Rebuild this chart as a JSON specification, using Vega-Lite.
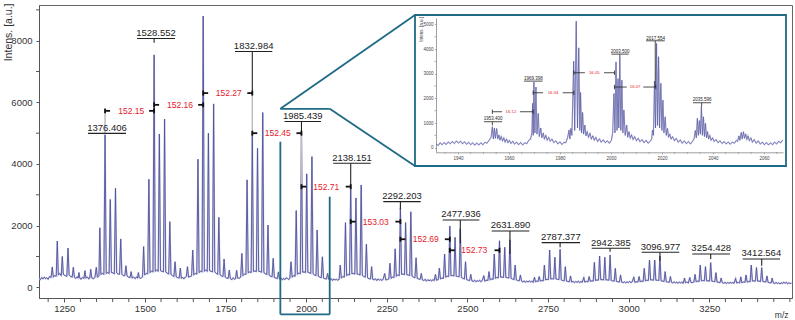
{
"$schema":"https://vega.github.io/schema/vega-lite/v6.json",
"width":753,"height":293,
"autosize":{"type":"none"},
"padding":{"left":39,"top":5,"right":3,"bottom":22},
"background":"white",
"config":{"view":{"stroke":"#666","strokeWidth":1},"font":"Liberation Sans","axis":{"grid":false,"labelOverlap":false,"labelFlush":false}},
"datasets":{
"spec":[{"m":1172,"i":300},{"m":1176,"i":250},{"m":1180,"i":320},{"m":1184,"i":270},{"m":1188,"i":330},{"m":1192,"i":280},{"m":1196,"i":310},{"m":1200,"i":260},{"m":1204,"i":350},{"m":1209,"i":320},{"m":1212.8,"i":660},{"m":1216,"i":330},{"m":1220,"i":380},{"m":1225,"i":360},{"m":1228.3,"i":1500},{"m":1231.5,"i":400},{"m":1236,"i":450},{"m":1240.5,"i":380},{"m":1243.8,"i":1000},{"m":1247,"i":420},{"m":1252,"i":380},{"m":1258,"i":360},{"m":1261.5,"i":1270},{"m":1265,"i":400},{"m":1270,"i":350},{"m":1274.5,"i":330},{"m":1278,"i":650},{"m":1281.5,"i":320},{"m":1286,"i":290},{"m":1290,"i":340},{"m":1293,"i":300},{"m":1295.6,"i":480},{"m":1298,"i":300},{"m":1302,"i":260},{"m":1306,"i":320},{"m":1311,"i":290},{"m":1314,"i":540},{"m":1317,"i":300},{"m":1322,"i":330},{"m":1326,"i":270},{"m":1329,"i":300},{"m":1332,"i":585},{"m":1335,"i":310},{"m":1340,"i":280},{"m":1345,"i":320},{"m":1349.3,"i":650},{"m":1352.5,"i":330},{"m":1356,"i":350},{"m":1357.5,"i":380},{"m":1360.2,"i":1930},{"m":1363.5,"i":420},{"m":1368,"i":450},{"m":1372.8,"i":420},{"m":1376.4,"i":4950},{"m":1380,"i":450},{"m":1384.5,"i":480},{"m":1389,"i":450},{"m":1392.6,"i":2850},{"m":1396,"i":480},{"m":1400.5,"i":470},{"m":1405.2,"i":440},{"m":1408.8,"i":3215},{"m":1412.4,"i":470},{"m":1416.8,"i":430},{"m":1421.4,"i":420},{"m":1425,"i":1570},{"m":1428.5,"i":430},{"m":1433,"i":380},{"m":1437.8,"i":380},{"m":1441.2,"i":700},{"m":1444.5,"i":370},{"m":1449,"i":330},{"m":1454,"i":320},{"m":1457.4,"i":510},{"m":1460.5,"i":300},{"m":1465,"i":330},{"m":1470,"i":280},{"m":1474,"i":340},{"m":1477,"i":300},{"m":1479.7,"i":480},{"m":1482.5,"i":310},{"m":1487,"i":290},{"m":1492.7,"i":340},{"m":1496,"i":1320},{"m":1499.3,"i":400},{"m":1504,"i":450},{"m":1508.8,"i":440},{"m":1512.3,"i":3505},{"m":1515.8,"i":480},{"m":1520.4,"i":520},{"m":1525,"i":500},{"m":1528.55,"i":7540},{"m":1532,"i":520},{"m":1536.7,"i":560},{"m":1541.2,"i":520},{"m":1544.8,"i":4975},{"m":1548.3,"i":540},{"m":1552.9,"i":520},{"m":1557.5,"i":500},{"m":1561,"i":5455},{"m":1564.5,"i":500},{"m":1569,"i":460},{"m":1573.8,"i":430},{"m":1577.3,"i":2130},{"m":1580.8,"i":420},{"m":1585.4,"i":380},{"m":1590,"i":350},{"m":1593.5,"i":830},{"m":1597,"i":340},{"m":1601.6,"i":310},{"m":1606.3,"i":300},{"m":1609.8,"i":625},{"m":1613,"i":290},{"m":1617,"i":320},{"m":1621,"i":270},{"m":1625,"i":330},{"m":1628.5,"i":350},{"m":1632,"i":670},{"m":1635.3,"i":330},{"m":1640,"i":350},{"m":1644.8,"i":370},{"m":1648.3,"i":1210},{"m":1651.8,"i":400},{"m":1656.4,"i":450},{"m":1661,"i":430},{"m":1664.5,"i":4155},{"m":1668,"i":480},{"m":1672.6,"i":520},{"m":1677.2,"i":500},{"m":1680.7,"i":8800},{"m":1684.2,"i":520},{"m":1688.8,"i":560},{"m":1693.4,"i":520},{"m":1696.9,"i":5000},{"m":1700.4,"i":540},{"m":1705,"i":520},{"m":1709.6,"i":500},{"m":1713.1,"i":5950},{"m":1716.6,"i":500},{"m":1721.2,"i":450},{"m":1725.8,"i":420},{"m":1729.3,"i":2270},{"m":1732.8,"i":410},{"m":1737.4,"i":370},{"m":1742,"i":350},{"m":1745.5,"i":920},{"m":1749,"i":330},{"m":1753.6,"i":300},{"m":1758.2,"i":290},{"m":1761.7,"i":560},{"m":1765,"i":280},{"m":1770,"i":250},{"m":1774,"i":310},{"m":1778,"i":260},{"m":1781,"i":280},{"m":1784.4,"i":550},{"m":1787.5,"i":300},{"m":1792,"i":290},{"m":1797,"i":330},{"m":1800.6,"i":1100},{"m":1804,"i":380},{"m":1808.7,"i":430},{"m":1813.3,"i":420},{"m":1816.8,"i":3485},{"m":1820.3,"i":470},{"m":1824.9,"i":500},{"m":1829.5,"i":480},{"m":1833,"i":5000},{"m":1836.5,"i":510},{"m":1841.1,"i":530},{"m":1845.7,"i":510},{"m":1849.2,"i":4510},{"m":1852.7,"i":520},{"m":1857.3,"i":510},{"m":1861.9,"i":490},{"m":1865.4,"i":5670},{"m":1868.9,"i":480},{"m":1873.5,"i":440},{"m":1878.1,"i":410},{"m":1881.6,"i":2020},{"m":1885.1,"i":400},{"m":1889.7,"i":360},{"m":1894.3,"i":340},{"m":1897.8,"i":940},{"m":1901.3,"i":320},{"m":1905.9,"i":300},{"m":1910.5,"i":280},{"m":1914,"i":500},{"m":1917.5,"i":270},{"m":1922,"i":300},{"m":1926,"i":240},{"m":1930,"i":290},{"m":1934,"i":250},{"m":1938,"i":310},{"m":1943,"i":280},{"m":1946,"i":250},{"m":1949.5,"i":300},{"m":1953,"i":830},{"m":1956.5,"i":330},{"m":1961,"i":380},{"m":1965.7,"i":360},{"m":1969.2,"i":2490},{"m":1972.7,"i":420},{"m":1977.3,"i":460},{"m":1981.9,"i":440},{"m":1985.44,"i":5000},{"m":1989,"i":490},{"m":1993.6,"i":500},{"m":1998.2,"i":480},{"m":2001.7,"i":3680},{"m":2005.2,"i":490},{"m":2009.8,"i":470},{"m":2014.4,"i":450},{"m":2017.9,"i":4240},{"m":2021.4,"i":440},{"m":2026,"i":400},{"m":2030.6,"i":380},{"m":2034.1,"i":1860},{"m":2037.6,"i":360},{"m":2042.2,"i":330},{"m":2046.8,"i":310},{"m":2050.3,"i":990},{"m":2053.8,"i":300},{"m":2058.4,"i":280},{"m":2063,"i":270},{"m":2066.5,"i":450},{"m":2070,"i":260},{"m":2074,"i":230},{"m":2078,"i":280},{"m":2082,"i":220},{"m":2086,"i":270},{"m":2090,"i":240},{"m":2094,"i":260},{"m":2098,"i":230},{"m":2102.2,"i":260},{"m":2105.7,"i":720},{"m":2109.2,"i":300},{"m":2113.8,"i":350},{"m":2118.4,"i":330},{"m":2121.9,"i":2100},{"m":2125.4,"i":380},{"m":2130,"i":420},{"m":2134.6,"i":400},{"m":2138.15,"i":3280},{"m":2141.7,"i":440},{"m":2146.3,"i":450},{"m":2150.9,"i":430},{"m":2154.4,"i":2900},{"m":2157.9,"i":430},{"m":2162.5,"i":420},{"m":2167.1,"i":400},{"m":2170.6,"i":3320},{"m":2174.1,"i":390},{"m":2178.7,"i":350},{"m":2183.3,"i":330},{"m":2186.8,"i":1400},{"m":2190.3,"i":310},{"m":2194.9,"i":280},{"m":2199.5,"i":270},{"m":2203,"i":670},{"m":2206.5,"i":260},{"m":2211,"i":240},{"m":2215,"i":280},{"m":2219,"i":220},{"m":2223,"i":270},{"m":2227,"i":230},{"m":2231,"i":260},{"m":2235,"i":220},{"m":2239,"i":270},{"m":2243.6,"i":450},{"m":2247,"i":240},{"m":2252,"i":250},{"m":2256.3,"i":270},{"m":2259.8,"i":780},{"m":2263.3,"i":290},{"m":2268,"i":330},{"m":2272.5,"i":320},{"m":2276,"i":1250},{"m":2279.5,"i":360},{"m":2284,"i":400},{"m":2288.7,"i":380},{"m":2292.2,"i":2580},{"m":2295.7,"i":420},{"m":2300.3,"i":430},{"m":2304.9,"i":410},{"m":2308.4,"i":2100},{"m":2311.9,"i":410},{"m":2316.5,"i":400},{"m":2321.1,"i":380},{"m":2324.6,"i":2450},{"m":2328.1,"i":370},{"m":2332.7,"i":330},{"m":2337.3,"i":310},{"m":2340.8,"i":960},{"m":2344.3,"i":290},{"m":2348.9,"i":270},{"m":2353.5,"i":260},{"m":2357,"i":450},{"m":2360.5,"i":240},{"m":2365,"i":220},{"m":2369,"i":260},{"m":2373,"i":200},{"m":2377,"i":250},{"m":2381,"i":210},{"m":2385,"i":240},{"m":2389,"i":200},{"m":2393,"i":250},{"m":2397,"i":220},{"m":2401,"i":420},{"m":2404,"i":230},{"m":2409.5,"i":250},{"m":2413,"i":620},{"m":2416.5,"i":270},{"m":2421,"i":300},{"m":2425.8,"i":290},{"m":2429.3,"i":1080},{"m":2432.8,"i":330},{"m":2437.4,"i":360},{"m":2442,"i":350},{"m":2445.5,"i":1990},{"m":2449,"i":380},{"m":2453.6,"i":380},{"m":2458.2,"i":370},{"m":2461.7,"i":1620},{"m":2465.2,"i":360},{"m":2469.8,"i":350},{"m":2474.4,"i":340},{"m":2477.9,"i":1900},{"m":2481.4,"i":320},{"m":2486,"i":290},{"m":2490.7,"i":270},{"m":2494.2,"i":830},{"m":2497.7,"i":250},{"m":2502.3,"i":230},{"m":2506.9,"i":220},{"m":2510.4,"i":420},{"m":2514,"i":210},{"m":2518,"i":190},{"m":2522,"i":230},{"m":2526,"i":180},{"m":2530,"i":220},{"m":2534,"i":190},{"m":2538,"i":230},{"m":2542,"i":180},{"m":2546,"i":220},{"m":2551,"i":380},{"m":2554,"i":200},{"m":2558,"i":230},{"m":2563.5,"i":220},{"m":2567,"i":510},{"m":2570.5,"i":240},{"m":2575,"i":270},{"m":2579.8,"i":260},{"m":2583.3,"i":1080},{"m":2586.8,"i":290},{"m":2591.4,"i":320},{"m":2596,"i":310},{"m":2599.5,"i":1510},{"m":2603,"i":330},{"m":2607.6,"i":330},{"m":2612.2,"i":320},{"m":2615.7,"i":1300},{"m":2619.2,"i":320},{"m":2623.8,"i":310},{"m":2628.4,"i":300},{"m":2631.9,"i":1540},{"m":2635.4,"i":290},{"m":2640,"i":270},{"m":2644.6,"i":250},{"m":2648.1,"i":720},{"m":2651.6,"i":240},{"m":2656.2,"i":220},{"m":2660.8,"i":210},{"m":2664.3,"i":400},{"m":2668,"i":200},{"m":2672,"i":170},{"m":2676,"i":210},{"m":2680,"i":160},{"m":2684,"i":200},{"m":2688,"i":170},{"m":2692,"i":210},{"m":2696,"i":170},{"m":2700,"i":200},{"m":2704,"i":160},{"m":2708,"i":330},{"m":2711,"i":180},{"m":2715,"i":200},{"m":2719,"i":190},{"m":2722.5,"i":350},{"m":2726,"i":200},{"m":2730.5,"i":220},{"m":2735.2,"i":210},{"m":2738.7,"i":720},{"m":2742.2,"i":240},{"m":2746.8,"i":260},{"m":2751.5,"i":250},{"m":2755,"i":1210},{"m":2758.5,"i":270},{"m":2763.1,"i":280},{"m":2767.7,"i":270},{"m":2771.2,"i":975},{"m":2774.7,"i":270},{"m":2779.3,"i":260},{"m":2783.9,"i":250},{"m":2787.4,"i":1230},{"m":2790.9,"i":240},{"m":2795.5,"i":220},{"m":2800.1,"i":210},{"m":2803.6,"i":670},{"m":2807.1,"i":200},{"m":2811.7,"i":190},{"m":2816.3,"i":180},{"m":2819.8,"i":370},{"m":2823.3,"i":170},{"m":2828,"i":190},{"m":2832,"i":150},{"m":2836,"i":190},{"m":2840,"i":160},{"m":2844,"i":200},{"m":2848,"i":150},{"m":2852,"i":190},{"m":2856,"i":160},{"m":2861,"i":320},{"m":2864,"i":170},{"m":2869,"i":190},{"m":2874,"i":180},{"m":2877.5,"i":350},{"m":2881,"i":190},{"m":2885.6,"i":210},{"m":2890.2,"i":200},{"m":2893.7,"i":810},{"m":2897.2,"i":220},{"m":2901.8,"i":240},{"m":2906.4,"i":230},{"m":2909.9,"i":1015},{"m":2913.4,"i":250},{"m":2918,"i":250},{"m":2922.6,"i":240},{"m":2926.1,"i":975},{"m":2929.6,"i":240},{"m":2934.2,"i":240},{"m":2938.9,"i":230},{"m":2942.4,"i":1050},{"m":2945.9,"i":220},{"m":2950.5,"i":210},{"m":2955.1,"i":200},{"m":2958.6,"i":615},{"m":2962.1,"i":190},{"m":2966.7,"i":180},{"m":2971.3,"i":170},{"m":2974.8,"i":400},{"m":2978.3,"i":170},{"m":2983,"i":150},{"m":2987,"i":180},{"m":2991,"i":140},{"m":2995,"i":180},{"m":2999,"i":150},{"m":3003,"i":190},{"m":3007,"i":150},{"m":3011,"i":180},{"m":3016,"i":330},{"m":3019,"i":160},{"m":3023,"i":180},{"m":3028.7,"i":170},{"m":3032.2,"i":350},{"m":3035.7,"i":180},{"m":3040.3,"i":200},{"m":3044.9,"i":190},{"m":3048.4,"i":615},{"m":3051.9,"i":210},{"m":3056.5,"i":230},{"m":3061.1,"i":220},{"m":3064.6,"i":885},{"m":3068.1,"i":240},{"m":3072.7,"i":240},{"m":3077.3,"i":230},{"m":3080.8,"i":885},{"m":3084.3,"i":230},{"m":3088.9,"i":230},{"m":3093.5,"i":220},{"m":3097,"i":1015},{"m":3100.5,"i":210},{"m":3105.1,"i":200},{"m":3109.7,"i":190},{"m":3113.2,"i":510},{"m":3116.7,"i":180},{"m":3121.3,"i":170},{"m":3125.9,"i":160},{"m":3129.4,"i":350},{"m":3133,"i":160},{"m":3137,"i":140},{"m":3141,"i":180},{"m":3145,"i":140},{"m":3149,"i":170},{"m":3153,"i":130},{"m":3157,"i":170},{"m":3161,"i":140},{"m":3165,"i":170},{"m":3169,"i":130},{"m":3173.4,"i":300},{"m":3176,"i":150},{"m":3181,"i":170},{"m":3185,"i":140},{"m":3189.6,"i":320},{"m":3193,"i":160},{"m":3197,"i":150},{"m":3202.3,"i":170},{"m":3205.8,"i":420},{"m":3209.3,"i":180},{"m":3213.9,"i":200},{"m":3218.5,"i":190},{"m":3222,"i":720},{"m":3225.5,"i":210},{"m":3230.1,"i":220},{"m":3234.7,"i":210},{"m":3238.2,"i":670},{"m":3241.7,"i":210},{"m":3246.3,"i":210},{"m":3250.9,"i":200},{"m":3254.4,"i":800},{"m":3257.9,"i":200},{"m":3262.5,"i":190},{"m":3267.1,"i":180},{"m":3270.6,"i":475},{"m":3274.1,"i":170},{"m":3278.7,"i":160},{"m":3283.3,"i":150},{"m":3286.8,"i":300},{"m":3290.3,"i":150},{"m":3295,"i":130},{"m":3299,"i":160},{"m":3303,"i":120},{"m":3307,"i":160},{"m":3311,"i":130},{"m":3315,"i":160},{"m":3319,"i":130},{"m":3323,"i":160},{"m":3327,"i":130},{"m":3331.6,"i":290},{"m":3335,"i":140},{"m":3340,"i":160},{"m":3344,"i":140},{"m":3347.8,"i":340},{"m":3351,"i":150},{"m":3356,"i":170},{"m":3360.5,"i":160},{"m":3364,"i":400},{"m":3367.5,"i":170},{"m":3372.1,"i":190},{"m":3376.7,"i":180},{"m":3380.2,"i":720},{"m":3383.7,"i":200},{"m":3388.3,"i":210},{"m":3392.9,"i":200},{"m":3396.4,"i":640},{"m":3399.9,"i":200},{"m":3404.5,"i":200},{"m":3409.1,"i":190},{"m":3412.6,"i":640},{"m":3416.1,"i":190},{"m":3420.7,"i":180},{"m":3425.3,"i":170},{"m":3428.8,"i":370},{"m":3432.3,"i":160},{"m":3436.9,"i":150},{"m":3441.5,"i":140},{"m":3445,"i":300},{"m":3448.5,"i":140},{"m":3453,"i":120},{"m":3457,"i":160},{"m":3461,"i":120},{"m":3465,"i":150},{"m":3469,"i":110},{"m":3473,"i":150},{"m":3477,"i":120},{"m":3481,"i":170},{"m":3485,"i":130},{"m":3489,"i":160},{"m":3493,"i":110},{"m":3497,"i":150},{"m":3501,"i":120},{"m":3505,"i":140}],
"xt":[{"m":1200},{"m":1300},{"m":1350},{"m":1400},{"m":1450},{"m":1550},{"m":1600},{"m":1650},{"m":1700},{"m":1800},{"m":1850},{"m":1900},{"m":1950},{"m":2050},{"m":2100},{"m":2150},{"m":2200},{"m":2300},{"m":2350},{"m":2400},{"m":2450},{"m":2550},{"m":2600},{"m":2650},{"m":2700},{"m":2800},{"m":2850},{"m":2900},{"m":2950},{"m":3050},{"m":3100},{"m":3150},{"m":3200},{"m":3300},{"m":3350},{"m":3400},{"m":3450},{"m":3500}],
"yt":[{"i":1000},{"i":3000},{"i":5000},{"i":7000},{"i":9000}],
"ixt":[{"m":1935},{"m":1945},{"m":1950},{"m":1955},{"m":1965},{"m":1970},{"m":1975},{"m":1985},{"m":1990},{"m":1995},{"m":2005},{"m":2010},{"m":2015},{"m":2025},{"m":2030},{"m":2035},{"m":2045},{"m":2050},{"m":2055},{"m":2065}],
"iyt":[{"i":500},{"i":1500},{"i":2500},{"i":3500},{"i":4500}],
"lab":[{"m":1382.5,"i":4994,"t":"1376.406"},{"m":1534.4,"i":8072,"t":"1528.552"},{"m":1837.2,"i":7650,"t":"1832.984"},{"m":1989.4,"i":5377,"t":"1985.439"},{"m":2142.2,"i":4026,"t":"2138.151"},{"m":2297.2,"i":2780,"t":"2292.203"},{"m":2480.2,"i":2185,"t":"2477.936"},{"m":2633.6,"i":1828,"t":"2631.890"},{"m":2789.8,"i":1448,"t":"2787.377"},{"m":2944.8,"i":1266,"t":"2942.385"},{"m":3098.7,"i":1136,"t":"3096.977"},{"m":3255.9,"i":1081,"t":"3254.428"},{"m":3411.5,"i":919,"t":"3412.564"}],
"red":[{"m":1457.5,"i":5724,"t":"152.15"},{"m":1608.8,"i":5919,"t":"152.16"},{"m":1759.8,"i":6299,"t":"152.27"},{"m":1912,"i":5000,"t":"152.45"},{"m":2062.5,"i":3266,"t":"152.71"},{"m":2215.9,"i":2130,"t":"153.03"},{"m":2370.7,"i":1559,"t":"152.69"},{"m":2521.4,"i":1201,"t":"152.73"}],
"blk":[{"m":1323.5,"m2":1441.4,"i":4994,"i2":4994},{"m":1475.5,"m2":1593.3,"i":8072,"i2":8072},{"m":1528.55,"m2":1528.55,"i":8072,"i2":7930},{"m":1779.4,"m2":1895,"i":7650,"i2":7650},{"m":1833,"m2":1833,"i":7650,"i2":6299},{"m":1932.8,"m2":2046,"i":5377,"i2":5377},{"m":1985.44,"m2":1985.44,"i":5377,"i2":5000},{"m":2084.2,"m2":2200.1,"i":4026,"i2":4026},{"m":2138.15,"m2":2138.15,"i":4026,"i2":3266},{"m":2239.2,"m2":2355.2,"i":2780,"i2":2780},{"m":2292.2,"m2":2292.2,"i":2780,"i2":2530},{"m":2423.4,"m2":2536.9,"i":2185,"i2":2185},{"m":2477.9,"m2":2477.9,"i":2185,"i2":1430},{"m":2575.3,"m2":2691.9,"i":1828,"i2":1828},{"m":2631.9,"m2":2631.9,"i":1828,"i2":1080},{"m":2730.4,"m2":2849.2,"i":1448,"i2":1448},{"m":2787.4,"m2":2787.4,"i":1448,"i2":1300},{"m":2885.4,"m2":3004.2,"i":1266,"i2":1266},{"m":2942.4,"m2":2942.4,"i":1266,"i2":1156},{"m":3040.4,"m2":3157,"i":1136,"i2":1136},{"m":3097,"m2":3097,"i":1136,"i2":850},{"m":3197.4,"m2":3314.3,"i":1081,"i2":1081},{"m":3254.4,"m2":3254.4,"i":1081,"i2":919},{"m":3353.6,"m2":3469.3,"i":919,"i2":919},{"m":3412.6,"m2":3412.6,"i":919,"i2":700}],
"mk":[{"m":1376.4,"m2":1376.4,"i":5644,"i2":5804},{"m":1376.4,"m2":1391.9,"i":5724,"i2":5724},{"m":1528.55,"m2":1528.55,"i":5644,"i2":5804},{"m":1513,"m2":1528.55,"i":5724,"i2":5724},
{"m":1528.55,"m2":1528.55,"i":5839,"i2":5999},{"m":1528.55,"m2":1544,"i":5919,"i2":5919},{"m":1680.7,"m2":1680.7,"i":5839,"i2":5999},{"m":1665.2,"m2":1680.7,"i":5919,"i2":5919},
{"m":1680.7,"m2":1680.7,"i":6219,"i2":6379},{"m":1680.7,"m2":1696.2,"i":6299,"i2":6299},{"m":1833,"m2":1833,"i":6219,"i2":6379},{"m":1817.5,"m2":1833,"i":6299,"i2":6299},
{"m":1833,"m2":1833,"i":4920,"i2":5080},{"m":1833,"m2":1848.5,"i":5000,"i2":5000},{"m":1985.44,"m2":1985.44,"i":4920,"i2":5080},{"m":1969.9,"m2":1985.44,"i":5000,"i2":5000},
{"m":1985.44,"m2":1985.44,"i":3186,"i2":3346},{"m":1985.44,"m2":2000.9,"i":3266,"i2":3266},{"m":2138.15,"m2":2138.15,"i":3186,"i2":3346},{"m":2122.6,"m2":2138.15,"i":3266,"i2":3266},
{"m":2138.15,"m2":2138.15,"i":2050,"i2":2210},{"m":2138.15,"m2":2153.6,"i":2130,"i2":2130},{"m":2292.2,"m2":2292.2,"i":2050,"i2":2210},{"m":2276.7,"m2":2292.2,"i":2130,"i2":2130},
{"m":2292.2,"m2":2292.2,"i":1479,"i2":1639},{"m":2292.2,"m2":2307.7,"i":1559,"i2":1559},{"m":2445.5,"m2":2445.5,"i":1479,"i2":1639},{"m":2430,"m2":2445.5,"i":1559,"i2":1559},
{"m":2445.5,"m2":2445.5,"i":1121,"i2":1281},{"m":2445.5,"m2":2461,"i":1201,"i2":1201},{"m":2599.5,"m2":2599.5,"i":1121,"i2":1281},{"m":2584,"m2":2599.5,"i":1201,"i2":1201}],
"gry":[{"m":1376.4,"m2":1376.4,"i":5724,"i2":4994},{"m":1833,"m2":1833,"i":6299,"i2":5000},{"m":1985.44,"m2":1985.44,"i":5000,"i2":3266}],
"teal":[{"m":1920,"m2":2073,"i":5789,"i2":5789},{"m":1920,"m2":1920,"i":4723,"i2":-878},{"m":2073,"m2":2073,"i":2940,"i2":-878},{"m":1920,"m2":2073,"i":-878,"i2":-878},{"m":1920,"m2":2337.5,"i":5789,"i2":8833},{"m":2073,"m2":2337.5,"i":5789,"i2":3935}],
"frame":[{"m":2337.5,"m2":3487.9,"i":8833,"i2":3935}],
"ins":[{"m":1931.5,"i":150},{"m":1932.3,"i":90},{"m":1933,"i":200},{"m":1933.8,"i":120},{"m":1934.6,"i":210},{"m":1935.4,"i":130},{"m":1936.2,"i":230},{"m":1937,"i":160},{"m":1937.8,"i":250},{"m":1938.6,"i":170},{"m":1939.4,"i":270},{"m":1940.2,"i":190},{"m":1941,"i":260},{"m":1941.8,"i":160},{"m":1942.6,"i":240},{"m":1943.4,"i":140},{"m":1944.2,"i":220},{"m":1945,"i":120},{"m":1945.8,"i":200},{"m":1946.6,"i":100},{"m":1947.4,"i":190},{"m":1948.2,"i":110},{"m":1949,"i":200},{"m":1949.8,"i":120},{"m":1950.6,"i":220},{"m":1951.4,"i":180},{"m":1952.2,"i":300},{"m":1953,"i":420},{"m":1953.5,"i":850},{"m":1953.9,"i":350},{"m":1954.3,"i":800},{"m":1954.7,"i":380},{"m":1955.2,"i":780},{"m":1955.6,"i":350},{"m":1956.1,"i":520},{"m":1956.5,"i":300},{"m":1957,"i":460},{"m":1957.5,"i":270},{"m":1958,"i":400},{"m":1958.5,"i":220},{"m":1959.1,"i":350},{"m":1959.6,"i":200},{"m":1960.2,"i":300},{"m":1960.8,"i":170},{"m":1961.5,"i":260},{"m":1962.2,"i":140},{"m":1963,"i":230},{"m":1963.8,"i":120},{"m":1964.6,"i":210},{"m":1965.4,"i":110},{"m":1966.2,"i":200},{"m":1967,"i":160},{"m":1967.8,"i":300},{"m":1968.5,"i":350},{"m":1969,"i":600},{"m":1969.3,"i":1800},{"m":1969.55,"i":500},{"m":1969.8,"i":2660},{"m":1970.2,"i":600},{"m":1970.6,"i":2460},{"m":1971,"i":550},{"m":1971.5,"i":1390},{"m":1971.9,"i":450},{"m":1972.5,"i":800},{"m":1972.9,"i":400},{"m":1973.5,"i":600},{"m":1973.9,"i":350},{"m":1974.5,"i":500},{"m":1975,"i":300},{"m":1975.6,"i":420},{"m":1976.2,"i":260},{"m":1976.9,"i":350},{"m":1977.6,"i":200},{"m":1978.4,"i":280},{"m":1979.2,"i":150},{"m":1980,"i":240},{"m":1980.8,"i":130},{"m":1981.6,"i":220},{"m":1982.3,"i":200},{"m":1983,"i":400},{"m":1983.6,"i":720},{"m":1983.9,"i":350},{"m":1984.3,"i":785},{"m":1984.7,"i":500},{"m":1985.4,"i":3510},{"m":1985.8,"i":700},{"m":1986.4,"i":5130},{"m":1986.9,"i":800},{"m":1987.4,"i":4050},{"m":1987.8,"i":700},{"m":1988.1,"i":2240},{"m":1988.5,"i":600},{"m":1988.9,"i":1430},{"m":1989.3,"i":550},{"m":1989.8,"i":920},{"m":1990.2,"i":480},{"m":1990.7,"i":650},{"m":1991.2,"i":420},{"m":1991.8,"i":585},{"m":1992.3,"i":350},{"m":1992.9,"i":480},{"m":1993.5,"i":300},{"m":1994.1,"i":420},{"m":1994.8,"i":250},{"m":1995.5,"i":360},{"m":1996.2,"i":220},{"m":1997,"i":320},{"m":1997.8,"i":200},{"m":1998.6,"i":280},{"m":1999.4,"i":180},{"m":2000.2,"i":300},{"m":2000.7,"i":600},{"m":2001.2,"i":2200},{"m":2001.6,"i":600},{"m":2002,"i":3480},{"m":2002.4,"i":700},{"m":2002.8,"i":2800},{"m":2003.1,"i":800},{"m":2003.5,"i":3700},{"m":2003.9,"i":700},{"m":2004.3,"i":2740},{"m":2004.7,"i":600},{"m":2005.1,"i":1530},{"m":2005.6,"i":500},{"m":2006.2,"i":920},{"m":2006.6,"i":420},{"m":2007.1,"i":650},{"m":2007.6,"i":380},{"m":2008.1,"i":520},{"m":2008.7,"i":330},{"m":2009.3,"i":450},{"m":2010,"i":280},{"m":2010.7,"i":380},{"m":2011.4,"i":240},{"m":2012.2,"i":330},{"m":2013,"i":200},{"m":2013.8,"i":300},{"m":2014.6,"i":180},{"m":2015.4,"i":260},{"m":2016,"i":350},{"m":2016.3,"i":720},{"m":2016.7,"i":500},{"m":2017.1,"i":2700},{"m":2017.5,"i":800},{"m":2017.9,"i":4230},{"m":2018.3,"i":900},{"m":2018.7,"i":3690},{"m":2019.1,"i":800},{"m":2019.6,"i":2610},{"m":2020,"i":700},{"m":2020.4,"i":1930},{"m":2020.8,"i":600},{"m":2021.3,"i":1255},{"m":2021.7,"i":500},{"m":2022.2,"i":785},{"m":2022.6,"i":420},{"m":2023.1,"i":550},{"m":2023.6,"i":350},{"m":2024.2,"i":450},{"m":2024.9,"i":280},{"m":2025.6,"i":380},{"m":2026.4,"i":220},{"m":2027.2,"i":320},{"m":2028,"i":180},{"m":2028.8,"i":280},{"m":2029.6,"i":160},{"m":2030.4,"i":250},{"m":2031.2,"i":150},{"m":2032,"i":260},{"m":2032.6,"i":350},{"m":2033.1,"i":700},{"m":2033.5,"i":400},{"m":2033.9,"i":1190},{"m":2034.3,"i":500},{"m":2034.7,"i":1100},{"m":2035.1,"i":550},{"m":2035.5,"i":1690},{"m":2035.9,"i":500},{"m":2036.3,"i":1255},{"m":2036.7,"i":450},{"m":2037.1,"i":990},{"m":2037.5,"i":400},{"m":2037.9,"i":650},{"m":2038.3,"i":350},{"m":2038.8,"i":500},{"m":2039.3,"i":300},{"m":2039.9,"i":400},{"m":2040.5,"i":250},{"m":2041.2,"i":330},{"m":2042,"i":200},{"m":2042.8,"i":280},{"m":2043.6,"i":170},{"m":2044.4,"i":250},{"m":2045.2,"i":150},{"m":2046,"i":230},{"m":2046.8,"i":140},{"m":2047.6,"i":230},{"m":2048.4,"i":180},{"m":2049.2,"i":300},{"m":2049.7,"i":250},{"m":2050.2,"i":480},{"m":2050.6,"i":300},{"m":2051.1,"i":620},{"m":2051.5,"i":350},{"m":2052,"i":650},{"m":2052.4,"i":380},{"m":2052.9,"i":560},{"m":2053.3,"i":330},{"m":2053.8,"i":480},{"m":2054.3,"i":280},{"m":2054.9,"i":400},{"m":2055.5,"i":220},{"m":2056.2,"i":330},{"m":2057,"i":180},{"m":2057.8,"i":280},{"m":2058.6,"i":140},{"m":2059.4,"i":230},{"m":2060.2,"i":120},{"m":2061,"i":210},{"m":2061.8,"i":110},{"m":2062.6,"i":200},{"m":2063.4,"i":120},{"m":2064.2,"i":230},{"m":2065,"i":150},{"m":2065.8,"i":260},{"m":2066.6,"i":200},{"m":2067.4,"i":320}],
"ilab":[{"m":1953.8,"i":1053,"t":"1953.400"},{"m":1969.6,"i":2700,"t":"1969.398"},{"m":2003.6,"i":3795,"t":"2003.500"},{"m":2017.5,"i":4335,"t":"2017.554"},{"m":2035.8,"i":1823,"t":"2035.596"}],
"ired":[{"m":1960.8,"i":1458,"t":"16.12"},{"m":1977.3,"i":2228,"t":"16.34"},{"m":1993.5,"i":3040,"t":"16.05"},{"m":2009.5,"i":2460,"t":"16.07"}],
"iseg":[{"m":1950.2,"m2":1957.3,"i":1053,"i2":1053},{"m":1965.9,"m2":1973.2,"i":2700,"i2":2700},{"m":2000.2,"m2":2007,"i":3795,"i2":3795},{"m":2013.8,"m2":2021.1,"i":4335,"i2":4335},{"m":2032.2,"m2":2039.3,"i":1823,"i2":1823},{"m":2017.4,"m2":2017.4,"i":4335,"i2":2460},{"m":1953.5,"m2":1953.5,"i":1053,"i2":900},{"m":2003.5,"m2":2003.5,"i":3795,"i2":3700},{"m":2035.6,"m2":2035.6,"i":1823,"i2":1690},
{"m":1953.5,"m2":1953.5,"i":1368,"i2":1548},{"m":1953.5,"m2":1957.3,"i":1458,"i2":1458},{"m":1964.3,"m2":1969.5,"i":1458,"i2":1458},{"m":1969.5,"m2":1969.5,"i":1368,"i2":1548},
{"m":1969.5,"m2":1969.5,"i":2138,"i2":2318},{"m":1969.5,"m2":1973.4,"i":2228,"i2":2228},{"m":1981.1,"m2":1985.5,"i":2228,"i2":2228},{"m":1985.5,"m2":1985.5,"i":2138,"i2":2318},
{"m":1985.5,"m2":1985.5,"i":2950,"i2":3130},{"m":1985.5,"m2":1989.8,"i":3040,"i2":3040},{"m":1997.3,"m2":2001.4,"i":3040,"i2":3040},{"m":2001.4,"m2":2001.4,"i":2950,"i2":3130},
{"m":2001.4,"m2":2001.4,"i":2370,"i2":2550},{"m":2001.4,"m2":2006.2,"i":2460,"i2":2460},{"m":2012.7,"m2":2017.6,"i":2460,"i2":2460},{"m":2017.6,"m2":2017.6,"i":2370,"i2":2550}]
},
"layer":[
{"layer":[
{"data":{"name":"spec"},"mark":{"type":"line","stroke":"#c8c8e6","strokeWidth":1.6,"interpolate":"linear"},
 "encoding":{
  "x":{"field":"m","type":"quantitative","scale":{"domain":[1171.6,3506.5],"nice":false,"zero":false},
   "axis":{"values":[1250,1500,1750,2000,2250,2500,2750,3000,3250],"format":"d","labelOverlap":false,"labelFlush":false,
    "title":"m/z","titleX":749,"titleY":16,"titleAlign":"right","titleBaseline":"middle","titleFontSize":8.5,"titleFontWeight":"normal","titleColor":"#333",
    "tickSize":4,"labelPadding":1.5,"labelFontSize":9.5,"labelColor":"#333","domainColor":"#555","tickColor":"#555","labelBaseline":"top"}},
  "y":{"field":"i","type":"quantitative","scale":{"domain":[-347,9158],"nice":false,"zero":false},
   "axis":{"values":[0,2000,4000,6000,8000],"format":"d","labelOverlap":false,"labelFlush":false,
    "title":"Intens. [a.u.]","titleAngle":-90,"titleAlign":"right","titleBaseline":"middle","titleX":-31,"titleY":-2,"titleFontSize":10.5,"titleFontWeight":"normal","titleColor":"#333",
    "tickSize":3,"labelPadding":4,"labelFontSize":9.5,"labelColor":"#333","domainColor":"#555","tickColor":"#555"}}}},
{"data":{"name":"spec"},"mark":{"type":"line","stroke":"#4d4f98","strokeWidth":0.85,"interpolate":"linear"},
 "encoding":{"x":{"field":"m","type":"quantitative"},"y":{"field":"i","type":"quantitative"}}},
{"data":{"name":"xt"},"mark":{"type":"rule","stroke":"#555","strokeWidth":1},
 "encoding":{"x":{"field":"m","type":"quantitative"},"y":{"datum":-347},"y2":{"datum":-477}}},
{"data":{"name":"yt"},"mark":{"type":"rule","stroke":"#555","strokeWidth":1},
 "encoding":{"y":{"field":"i","type":"quantitative"},"x":{"datum":1171.6},"x2":{"datum":1162.3}}},
{"data":{"name":"gry"},"mark":{"type":"rule","stroke":"#bdbdbd","strokeWidth":1.5},
 "encoding":{"x":{"field":"m","type":"quantitative"},"x2":{"field":"m2"},"y":{"field":"i","type":"quantitative"},"y2":{"field":"i2"}}},
{"data":{"name":"blk"},"mark":{"type":"rule","stroke":"#222","strokeWidth":1.1},
 "encoding":{"x":{"field":"m","type":"quantitative"},"x2":{"field":"m2"},"y":{"field":"i","type":"quantitative"},"y2":{"field":"i2"}}},
{"data":{"name":"mk"},"mark":{"type":"rule","stroke":"#111","strokeWidth":1.8},
 "encoding":{"x":{"field":"m","type":"quantitative"},"x2":{"field":"m2"},"y":{"field":"i","type":"quantitative"},"y2":{"field":"i2"}}},
{"data":{"name":"lab"},"mark":{"type":"text","fontSize":9.5,"color":"#222","baseline":"bottom","align":"center","dy":-0.5},
 "encoding":{"x":{"field":"m","type":"quantitative"},"y":{"field":"i","type":"quantitative"},"text":{"field":"t"}}},
{"data":{"name":"red"},"mark":{"type":"text","fontSize":8.5,"color":"#e8202a","baseline":"middle","align":"center"},
 "encoding":{"x":{"field":"m","type":"quantitative"},"y":{"field":"i","type":"quantitative"},"text":{"field":"t"}}},
{"data":{"name":"teal"},"mark":{"type":"rule","stroke":"#1f6a85","strokeWidth":1.8},
 "encoding":{"x":{"field":"m","type":"quantitative"},"x2":{"field":"m2"},"y":{"field":"i","type":"quantitative"},"y2":{"field":"i2"}}},
{"data":{"name":"frame"},"mark":{"type":"rect","fill":"white","stroke":"#1f6a85","strokeWidth":1.8},
 "encoding":{"x":{"field":"m","type":"quantitative"},"x2":{"field":"m2"},"y":{"field":"i","type":"quantitative"},"y2":{"field":"i2"}}}
]},
{"layer":[
{"data":{"name":"ins"},"mark":{"type":"line","stroke":"#c8c8e6","strokeWidth":1.3},
 "encoding":{
  "x":{"field":"m","type":"quantitative","scale":{"domain":[1931.4,2067.5],"range":[397,744],"nice":false,"zero":false},
   "axis":{"orient":"bottom","offset":-145.7,"zindex":1,"values":[1940,1960,1980,2000,2020,2040,2060],"format":"d","labelOverlap":false,"labelFlush":false,"title":null,
    "tickSize":1.5,"labelPadding":1.5,"labelFontSize":4.5,"labelColor":"#444","domainColor":"#777","tickColor":"#777","domainWidth":0.7,"tickWidth":0.6}},
  "y":{"field":"i","type":"quantitative","scale":{"domain":[-187,5260],"range":[147.3,13],"nice":false,"zero":false},
   "axis":{"orient":"left","offset":-397,"zindex":1,"values":[0,1000,2000,3000,4000,5000],"format":"d","labelOverlap":false,"labelFlush":false,
    "title":"Intens. [a.u.]","titleAngle":-90,"titleAlign":"right","titleBaseline":"middle","titleX":-15,"titleY":11.5,"titleFontSize":4.5,"titleFontWeight":"normal","titleColor":"#444",
    "tickSize":1.5,"labelPadding":1.5,"labelFontSize":4.5,"labelColor":"#444","domainColor":"#777","tickColor":"#777","domainWidth":0.7,"tickWidth":0.6}}}},
{"data":{"name":"ins"},"mark":{"type":"line","stroke":"#4d4f98","strokeWidth":0.6},
 "encoding":{"x":{"field":"m","type":"quantitative"},"y":{"field":"i","type":"quantitative"}}},
{"data":{"name":"ixt"},"mark":{"type":"rule","stroke":"#777","strokeWidth":0.6},
 "encoding":{"x":{"field":"m","type":"quantitative"},"y":{"datum":-187},"y2":{"datum":-248}}},
{"data":{"name":"iyt"},"mark":{"type":"rule","stroke":"#777","strokeWidth":0.6},
 "encoding":{"y":{"field":"i","type":"quantitative"},"x":{"datum":1931.4},"x2":{"datum":1930.8}}},
{"data":{"name":"iseg"},"mark":{"type":"rule","stroke":"#222","strokeWidth":0.8},
 "encoding":{"x":{"field":"m","type":"quantitative"},"x2":{"field":"m2"},"y":{"field":"i","type":"quantitative"},"y2":{"field":"i2"}}},
{"data":{"name":"ilab"},"mark":{"type":"text","fontSize":4.5,"color":"#222","baseline":"bottom","align":"center","dy":-0.3},
 "encoding":{"x":{"field":"m","type":"quantitative"},"y":{"field":"i","type":"quantitative"},"text":{"field":"t"}}},
{"data":{"name":"ired"},"mark":{"type":"text","fontSize":4.3,"color":"#e8202a","baseline":"middle","align":"center"},
 "encoding":{"x":{"field":"m","type":"quantitative"},"y":{"field":"i","type":"quantitative"},"text":{"field":"t"}}}
]}
],
"resolve":{"scale":{"x":"independent","y":"independent"},"axis":{"x":"independent","y":"independent"}}
}
